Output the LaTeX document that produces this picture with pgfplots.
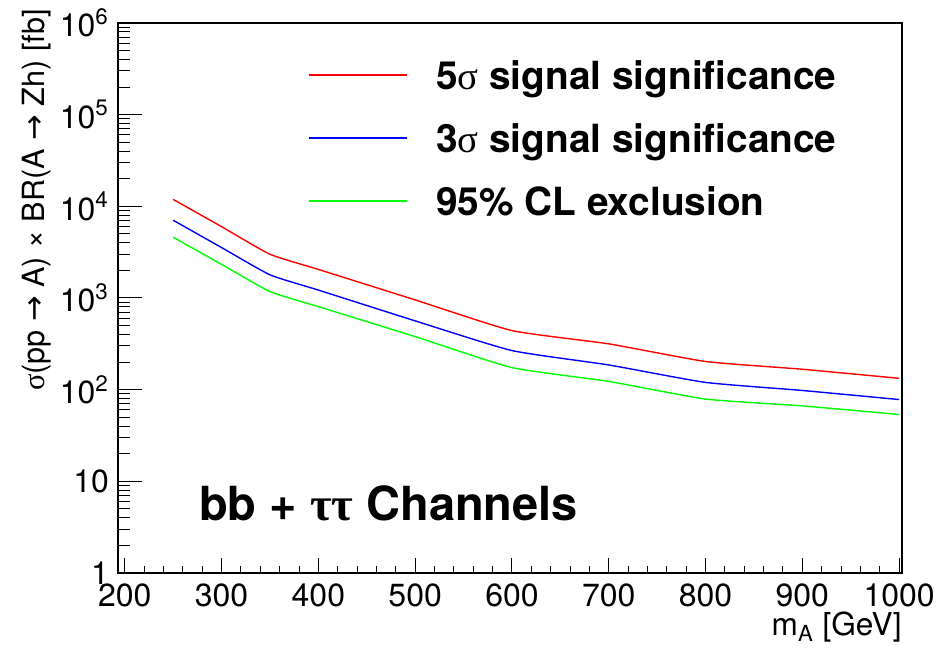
\documentclass[border=0pt]{standalone}
\usepackage{fontspec}
\setmainfont{TeX Gyre Heros}
\newfontfamily\symf{Liberation Serif}
\newfontfamily\arrowf{DejaVu Sans}
\usepackage{pgfplots}
\usepackage{pgfplotstable}
\pgfplotsset{compat=1.18}
\usetikzlibrary{calc}

\pgfplotstableread{
m sig5 sig3 excl
250 11900 7050 4600
300 6000 3550 2325
350 3000 1790 1175
400 2050 1220 805
500 953 563 379
600 441 267 174
700 316 186 123
800 203 120 79
900 167 98 66.5
1000 133 78 53.6
}\datatable

\begin{document}
\begin{tikzpicture}
\begin{semilogyaxis}[
  scale only axis,
  width=392pt, height=275pt,
  xmin=193, xmax=1003,
  ymin=1, ymax=1e6,
  axis line style={line width=0.6pt},
  tick align=inside,
  xtick pos=bottom, ytick pos=left,
  xtick={200,300,...,1000},
  xticklabels={200,300,400,500,600,700,800,900,1000},
  minor x tick num=4,
  ytick={1,10,100,1000,10000,100000,1000000},
  yticklabels={1,10,10\textsuperscript{2},10\textsuperscript{3},10\textsuperscript{4},10\textsuperscript{5},10\textsuperscript{6}},
  major tick length=12pt, minor tick length=6pt,
  xtick style={/pgfplots/major tick length=7.5pt,/pgfplots/minor tick length=3.75pt},
  tick style={line width=0.5pt, black},
  ticklabel style={font=\fontsize{16}{19}\selectfont},
  xticklabel style={inner sep=1pt, text depth=0pt, yshift=-4.3pt},
  yticklabel style={xshift=-1pt},
  xlabel={m\textsubscript{A} [GeV]},
  xlabel style={at={($(axis description cs:1,0)+(0,-31pt)$)}, anchor=base east, inner sep=0pt, font=\fontsize{15.8}{19}\selectfont},
  ylabel={{\symf σ}(pp {\arrowf →} A) × BR(A {\arrowf →} Zh) [fb]},
  ylabel style={at={($(axis description cs:0,1)+(-36.5pt,7pt)$)}, anchor=base east, inner sep=0pt, font=\fontsize{15.3}{18}\selectfont},
  legend cell align=left,
  legend image code/.code={\draw[#1, line width=0.8pt] (0pt,0pt) -- (49pt,0pt);},
  legend style={at={(axis description cs:0.2348,0.9382)}, anchor=north west, draw=none, fill=none,
    font=\fontsize{19.4}{23}\selectfont\bfseries,
    nodes={inner sep=0pt, text height=13.9pt, text depth=0pt},
    row sep=17.6pt, column sep=14pt},
]
\addplot[red, line width=0.7pt, smooth, tension=0.3] table[x=m, y=sig5] {\datatable};
\addlegendentry{5{\symf\mdseries σ} signal significance}
\addplot[blue, line width=0.7pt, smooth, tension=0.3] table[x=m, y=sig3] {\datatable};
\addlegendentry{3{\symf\mdseries σ} signal significance}
\addplot[green, line width=0.7pt, smooth, tension=0.3] table[x=m, y=excl] {\datatable};
\addlegendentry{95\% CL exclusion}
\node[anchor=base west, font=\fontsize{23.5}{28}\selectfont\bfseries] at (axis description cs:0.0944,0.095) {bb + {\symf ττ} Channels};
\end{semilogyaxis}
\pgfresetboundingbox
\path (-59pt,-39pt) rectangle (413.5pt,286.5pt);
\end{tikzpicture}
\end{document}
